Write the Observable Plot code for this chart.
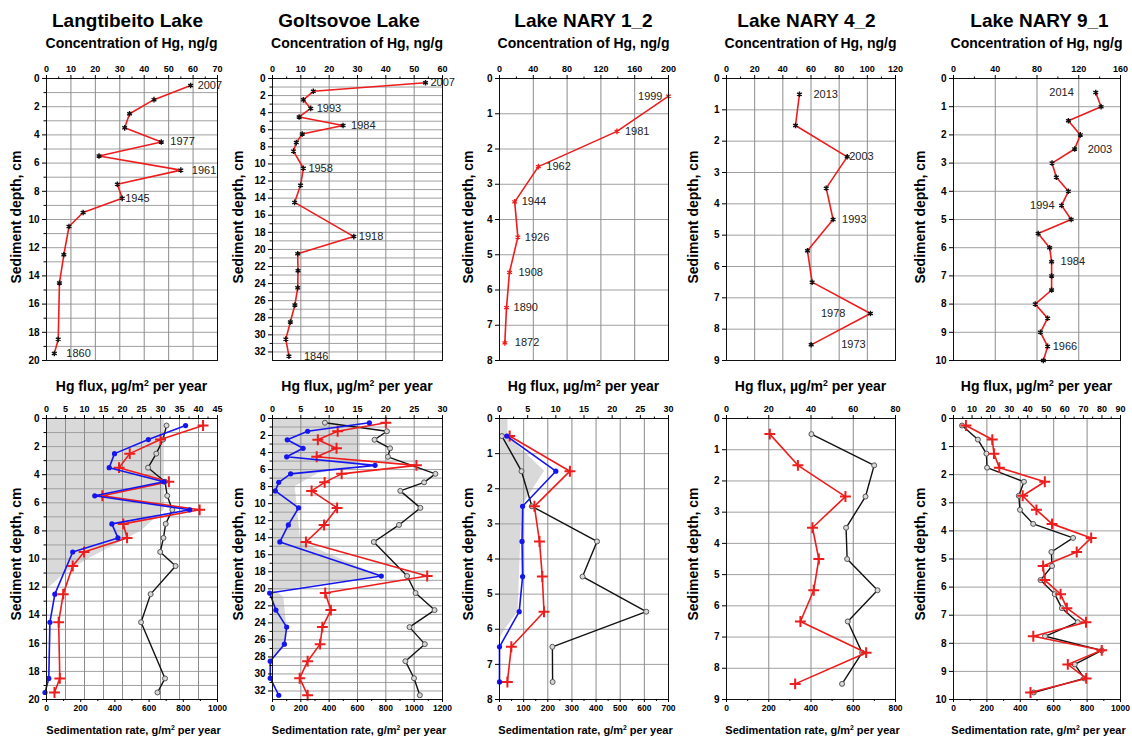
<!DOCTYPE html>
<html><head><meta charset="utf-8">
<script src="https://cdn.jsdelivr.net/npm/d3@7"></script>
<script src="https://cdn.jsdelivr.net/npm/@observablehq/plot@0.6"></script>
<style>
body{margin:0;background:#fff;font-family:"Liberation Sans",Arial,Helvetica,sans-serif;}
#root{position:relative;width:1132px;height:740px;overflow:hidden;background:#fff;}
.t{position:absolute;white-space:nowrap;transform:translate(-50%,-50%);color:#000;font-weight:bold;line-height:1;}
.r{transform:translate(-50%,-50%) rotate(-90deg);}
sup{font-size:0.62em;vertical-align:0.55em;line-height:0;}
</style></head><body><div id="root"></div>
<script>
// ---------------- DATA ----------------
const lakes = ["Langtibeito Lake","Goltsovoe Lake","Lake NARY 1_2","Lake NARY 4_2","Lake NARY 9_1"];

// Langtibeito
const langDepth = [0.5,1.5,2.5,3.5,4.5,5.5,6.5,7.5,8.5,9.5,10.5,12.5,14.5,18.5,19.5];
const langHg = [59,44,34,32,47,21.5,55,29,31,15,9.2,7.1,5.3,4.8,3.2];
const langYearDepth = [0.5,4.5,6.5,8.5,19.5];
const langYears = ["2007","1977","1961","1945","1860"];
const langBlueDepth = [0.5,1.5,2.5,3.5,4.5,5.5,6.5,7.5,8.5,9.5,12.5,14.5,18.5,19.5];
const langFluxBlue = [36.6,26.8,17.9,16.5,30.9,12.7,37.7,17.2,18.8,6.9,2.2,0.9,0.6,-0.4];
const langFluxRed = [41.2,30,21.9,19.1,32.2,14.7,40.3,20.2,21.2,9.9,6.9,4.4,3.2,3.5,2.1];
const langSed = [702,681,642,594,693,706,736,697,684,665,755,609,553,693,649];
const langShadeDepth = [0,6.5,8,9,10,11,12.2];
const langShadeFlux = [31,31,25,18,11,5,0];
const langConcTicks = [0,10,20,30,40,50,60,70];
const langDepthTicks = [0,2,4,6,8,10,12,14,16,18,20];
const langFluxTicks = [0,5,10,15,20,25,30,35,40,45];
const langSedTicks = [0,200,400,600,800,1000];

// Goltsovoe
const goltDepth = [0.5,1.5,2.5,3.5,4.5,5.5,6.5,7.5,8.5,10.5,12.5,14.5,18.5,20.5,22.5,24.5,26.5,28.5,30.5,32.5];
const goltHg = [54,14.4,10.9,13.5,9.4,24.9,10.5,8.4,7.4,10.9,9.9,7.8,28.7,8.9,9,8.9,7.9,6.3,4.7,5.8];
const goltYearDepth = [0.5,3.5,5.5,10.5,18.5,32.5];
const goltYears = ["2007","1993","1984","1958","1918","1846"];
const goltFluxBlue = [17.1,6.2,2.6,5.4,2.5,18.1,3.2,1.1,0.5,4.6,2.8,1.3,19.2,-0.5,0.6,2.5,2.1,-0.4,-0.4,1.1];
const goltFluxRed = [20,11.5,8,11.3,7.8,25.4,12.2,9.2,6.9,11.4,9.1,5.9,27.3,9.3,10.3,8.8,8.4,6.2,4.8,6.2];
const goltSedDepth = [0.5,1.5,2.5,3.5,4.5,6.5,7.5,8.5,10.5,12.5,14.5,18.5,20.5,22.5,24.5,26.5,28.5,30.5,32.5];
const goltSed = [370,808,720,830,815,1150,1070,902,1044,893,715,950,1010,1144,967,1075,938,999,1040];
const goltShadeDepth = [0,5.5,6.5,8,14.5,18.5,20.3,21,24.5,27,28.3];
const goltShadeFlux = [15.5,15.5,8,4,5,19,0.5,2,2.5,2,0];
const goltConcTicks = [0,10,20,30,40,50,60];
const goltDepthTicks = [0,2,4,6,8,10,12,14,16,18,20,22,24,26,28,30,32];
const goltFluxTicks = [0,5,10,15,20,25,30];
const goltSedTicks = [0,200,400,600,800,1000,1200];

// NARY 1_2
const n12Depth = [0.5,1.5,2.5,3.5,4.5,5.5,6.5,7.5];
const n12Hg = [200,139,46,18,21.7,11.8,8.3,6.3];
const n12Years = ["1999","1981","1962","1944","1926","1908","1890","1872"];
const n12FluxBlue = [1.3,10,4.1,4,4.1,3.5,0,0];
const n12FluxRed = [1.8,12.5,6.2,7.1,7.6,7.9,2.1,1.4];
const n12Sed = [10,91,134,404,344,608,219,220];
const n12ShadeDepth = [0,0.5,1.5,2,2.5,5.5,6,6.3];
const n12ShadeFlux = [1.5,1.5,8,6,4,3.3,1,0];
const n12ConcTicks = [0,40,80,120,160,200];
const n12DepthTicks = [0,1,2,3,4,5,6,7,8];
const n12FluxTicks = [0,5,10,15,20,25,30];
const n12SedTicks = [0,100,200,300,400,500,600,700];

// NARY 4_2
const n42Depth = [0.5,1.5,2.5,3.5,4.5,5.5,6.5,7.5,8.5];
const n42Hg = [51.8,49,85.7,70.8,75.7,57.5,60.8,102.2,60.1];
const n42YearDepth = [0.5,2.5,4.5,7.5,8.5];
const n42Years = ["2013","2003","1993","1978","1973"];
const n42FluxRed = [20.5,33.8,56.3,40.7,43.7,41.3,35,66.1,32.5];
const n42Sed = [402,699,658,566,571,715,574,642,547];
const n42ConcTicks = [0,20,40,60,80,100,120];
const n42DepthTicks = [0,1,2,3,4,5,6,7,8,9];
const n42FluxTicks = [0,20,40,60,80];
const n42SedTicks = [0,200,400,600,800];

// NARY 9_1
const n91Depth = [0.5,1,1.5,2,2.5,3,3.5,4,4.5,5,5.5,6,6.5,7,7.5,8,8.5,9,9.5,10];
const n91Hg = [136.3,141.4,110.1,121.5,116.1,94.4,98.5,110.1,103.5,112.7,81.1,92.1,94,94,94,78.3,90.2,83.3,90.2,86.1];
const n91YearDepth = [0.5,2.5,4.5,6.5,9.5];
const n91Years = ["2014","2003","1994","1984","1966"];
const n91FluxDepth = [0.25,0.75,1.25,1.75,2.25,2.75,3.25,3.75,4.25,4.75,5.25,5.75,6.25,6.75,7.25,7.75,8.25,8.75,9.25,9.75];
const n91FluxRed = [6.7,20.9,21.8,24.7,49.2,37.3,44.7,53.1,74.2,66.4,48.3,49.2,57.7,61.1,71.4,43,79.9,61.6,71.5,41.5];
const n91Sed = [51,146,197,201,422,391,398,477,716,586,590,521,606,649,744,548,888,726,783,481];
const n91ConcTicks = [0,40,80,120,160];
const n91DepthTicks = [0,1,2,3,4,5,6,7,8,9,10];
const n91FluxTicks = [0,10,20,30,40,50,60,70,80,90];
const n91SedTicks = [0,200,400,600,800,1000];

// ---------------- HELPERS ----------------
const FONT = '"Liberation Sans", Arial, Helvetica, sans-serif';
const RED = "#ee1c1c", BLUE = "#1515ee";
const root = document.getElementById("root");
const rows = (ds, vs) => ds.map((d, i) => ({d, v: vs[i]}));
const mids = t => t.slice(1).map((v, i) => (v + t[i]) / 2);
const inner = t => t.slice(1, -1);
const ints = n => d3.range(1, Math.ceil(n));
function label(html, x, y, size, rot, weight) {
  const e = document.createElement("div");
  e.className = "t" + (rot ? " r" : "");
  e.innerHTML = html;
  e.style.left = x + "px"; e.style.top = y + "px";
  e.style.fontSize = size + "px";
  if (weight) e.style.fontWeight = weight;
  root.appendChild(e);
}
function yearRows(points, depths, texts, offs) {
  return depths.map((d, i) => {
    const p = points.find(q => q.d === d);
    return {d, v: p.v, t: texts[i], dx: offs[i][0], anchor: offs[i][1]};
  });
}

function makePanel(c) {
  const mL = 42, mR = 10, mT = 30, mB = 26;
  const w = c.x1 - c.x0, h = c.y1 - c.y0;
  const k = c.k || 1;
  const marks = [];
  if (c.shade) marks.push(Plot.areaX(c.shade, {y: "d", x: "v", fill: "#d9d9d9"}));
  marks.push(Plot.gridY(c.gridY, {stroke: "#a0a0a0", strokeOpacity: 1, strokeWidth: 1}));
  marks.push(Plot.gridX(c.gridX, {stroke: "#8c8c8c", strokeOpacity: 1, strokeWidth: 1}));
  for (const s of c.series) {
    const xf = s.sed ? (r => r.v * k) : "v";
    marks.push(Plot.line(s.data, {x: xf, y: "d", stroke: s.color, strokeWidth: s.sw || 1.6}));
    marks.push(Plot.dot(s.data, {x: xf, y: "d", ...s.dot}));
  }
  for (const L of (c.labels || [])) {
    marks.push(Plot.text([L], {x: "v", y: "d", text: "t", dx: L.dx, textAnchor: L.anchor,
      fontSize: 11, fill: "#222"}));
  }
  marks.push(Plot.frame({stroke: "#111", strokeWidth: 1}));
  marks.push(Plot.axisX({anchor: "top", ticks: c.topTicks, tickSize: 4, tickPadding: 3,
    fontSize: 9, fontWeight: "bold", label: null, tickFormat: d => String(d)}));
  marks.push(Plot.axisX({anchor: "top", ticks: mids(c.topTicks), tickSize: 2.5,
    tickFormat: () => "", label: null}));
  marks.push(Plot.axisY({anchor: "left", ticks: c.yTicks, tickSize: 4, tickPadding: 3,
    fontSize: 10, fontWeight: "bold", label: null, tickFormat: d => String(d)}));
  if (c.yMinor) marks.push(Plot.axisY({anchor: "left", ticks: c.yMinor, tickSize: 2.5,
    tickFormat: () => "", label: null}));
  if (c.sedTicks) {
    marks.push(Plot.axisX({anchor: "bottom", ticks: c.sedTicks.map(t => t * k), tickSize: 3,
      tickPadding: 2, fontSize: 8.5, fontWeight: "bold", label: null,
      tickFormat: d => String(Math.round(d / k))}));
    marks.push(Plot.axisX({anchor: "bottom", ticks: mids(c.sedTicks).map(t => t * k), tickSize: 2,
      tickFormat: () => "", label: null}));
  }
  const svg = Plot.plot({
    width: w + mL + mR, height: h + mT + mB,
    marginLeft: mL, marginRight: mR, marginTop: mT, marginBottom: mB,
    x: {domain: c.xDomain, axis: null},
    y: {domain: [0, c.yMax], reverse: true, axis: null},
    style: {fontFamily: FONT, color: "#000", background: "none", overflow: "visible"},
    marks
  });
  svg.style.position = "absolute";
  svg.style.left = (c.x0 - mL) + "px";
  svg.style.top = (c.y0 - mT) + "px";
  root.appendChild(svg);
}

// ---------------- LAYOUT ----------------
const frames = [[46,217],[272,442],[499,668],[726,895],[953,1120]];
const TOP = [78, 360], BOT = [418, 699];
const titleX = [127.5, 349, 583.5, 806.5, 1039.5];
const yLabX = [15.5, 237.5, 467.5, 693, 920];

const topDots = (col) => ({symbol: "asterisk", r: 2.6, stroke: col, strokeWidth: 1.4});
const blueDots = {fill: BLUE, r: 2.6};
const redDots = {symbol: "plus", r: 3.6, stroke: RED, strokeWidth: 2};
const blackDots = {fill: "#d8d8d8", stroke: "#555", strokeWidth: 1, r: 2.5};

// top row
const langPts = rows(langDepth, langHg);
const goltPts = rows(goltDepth, goltHg);
const n12Pts = rows(n12Depth, n12Hg);
const n42Pts = rows(n42Depth, n42Hg);
const n91Pts = rows(n91Depth, n91Hg);
const topCfg = [
  {pts: langPts, col: "#111", conc: langConcTicks, dep: langDepthTicks, yMax: 20, yMinor: d3.range(1,20,2),
   labels: yearRows(langPts, langYearDepth, langYears, [[7,"start"],[9,"start"],[11,"start"],[3,"start"],[12,"start"]])},
  {pts: goltPts, col: "#111", conc: goltConcTicks, dep: goltDepthTicks, yMax: 33, yMinor: d3.range(1,33,2),
   labels: yearRows(goltPts, goltYearDepth, goltYears, [[5,"start"],[6,"start"],[8,"start"],[5,"start"],[5,"start"],[15,"start"]])},
  {pts: n12Pts, col: RED, conc: n12ConcTicks, dep: n12DepthTicks, yMax: 8,
   labels: yearRows(n12Pts, n12Depth, n12Years, [[-6,"end"],[8,"start"],[8,"start"],[7,"start"],[7,"start"],[9,"start"],[7,"start"],[10,"start"]])},
  {pts: n42Pts, col: "#111", conc: n42ConcTicks, dep: n42DepthTicks, yMax: 9,
   labels: yearRows(n42Pts, n42YearDepth, n42Years, [[14,"start"],[2,"start"],[9,"start"],[-25,"end"],[30,"start"]])},
  {pts: n91Pts, col: "#111", conc: n91ConcTicks, dep: n91DepthTicks, yMax: 10,
   labels: yearRows(n91Pts, n91YearDepth, n91Years, [[-22,"end"],[13,"start"],[-7,"end"],[9,"start"],[5,"start"]])}
];
topCfg.forEach((t, i) => {
  const cmax = t.conc[t.conc.length - 1];
  makePanel({
    x0: frames[i][0], x1: frames[i][1], y0: TOP[0], y1: TOP[1],
    xDomain: [0, cmax], yMax: t.yMax,
    gridX: inner(t.conc), gridY: ints(t.yMax),
    topTicks: t.conc, yTicks: t.dep, yMinor: t.yMinor,
    series: [{data: t.pts, color: RED, dot: topDots(t.col)}],
    labels: t.labels
  });
  label(lakes[i], titleX[i], 20, 19);
  label("Concentration of Hg, ng/g", (frames[i][0] + frames[i][1]) / 2, 43, 14);
  label("Sediment depth, cm", yLabX[i], 217, 14, true);
});

// bottom row
const botCfg = [
  {flux: langFluxTicks, sed: langSedTicks, yMax: 20, dep: langDepthTicks, yMinor: d3.range(1,20,2), gridFlux: true,
   shade: rows(langShadeDepth, langShadeFlux),
   series: [
     {data: rows(langDepth, langSed), sed: true, color: "#111", dot: blackDots, sw: 1.4},
     {data: rows(langDepth, langFluxRed), color: RED, dot: redDots},
     {data: rows(langBlueDepth, langFluxBlue), color: BLUE, dot: blueDots}]},
  {flux: goltFluxTicks, sed: goltSedTicks, yMax: 33, dep: goltDepthTicks, yMinor: d3.range(1,33,2),
   shade: rows(goltShadeDepth, goltShadeFlux),
   series: [
     {data: rows(goltSedDepth, goltSed), sed: true, color: "#111", dot: blackDots, sw: 1.4},
     {data: rows(goltDepth, goltFluxRed), color: RED, dot: redDots},
     {data: rows(goltDepth, goltFluxBlue), color: BLUE, dot: blueDots}]},
  {flux: n12FluxTicks, sed: n12SedTicks, yMax: 8, dep: n12DepthTicks,
   shade: rows(n12ShadeDepth, n12ShadeFlux),
   series: [
     {data: rows(n12Depth, n12Sed), sed: true, color: "#111", dot: blackDots, sw: 1.4},
     {data: rows(n12Depth, n12FluxRed), color: RED, dot: redDots},
     {data: rows(n12Depth, n12FluxBlue), color: BLUE, dot: blueDots}]},
  {flux: n42FluxTicks, sed: n42SedTicks, yMax: 9, dep: n42DepthTicks,
   series: [
     {data: rows(n42Depth, n42Sed), sed: true, color: "#111", dot: blackDots, sw: 1.4},
     {data: rows(n42Depth, n42FluxRed), color: RED, dot: redDots}]},
  {flux: n91FluxTicks, sed: n91SedTicks, yMax: 10, dep: n91DepthTicks,
   series: [
     {data: rows(n91FluxDepth, n91Sed), sed: true, color: "#111", dot: blackDots, sw: 1.4},
     {data: rows(n91FluxDepth, n91FluxRed), color: RED, dot: redDots}]}
];
botCfg.forEach((b, i) => {
  const fmax = b.flux[b.flux.length - 1], smax = b.sed[b.sed.length - 1];
  const k = fmax / smax;
  makePanel({
    x0: frames[i][0], x1: frames[i][1], y0: BOT[0], y1: BOT[1], k,
    xDomain: [0, fmax], yMax: b.yMax,
    gridX: b.gridFlux ? inner(b.flux) : inner(b.sed).map(v => v * k),
    gridY: ints(b.yMax),
    topTicks: b.flux, yTicks: b.dep, yMinor: b.yMinor, sedTicks: b.sed,
    shade: b.shade, series: b.series
  });
  const cx = (frames[i][0] + frames[i][1]) / 2;
  label("Hg flux, µg/m<sup>2</sup> per year", cx, 386, 14);
  label("Sedimentation rate, g/m<sup>2</sup> per year", cx + 2, 730, 11);
  label("Sediment depth, cm", yLabX[i], 554, 14, true);
});
</script></body></html>
